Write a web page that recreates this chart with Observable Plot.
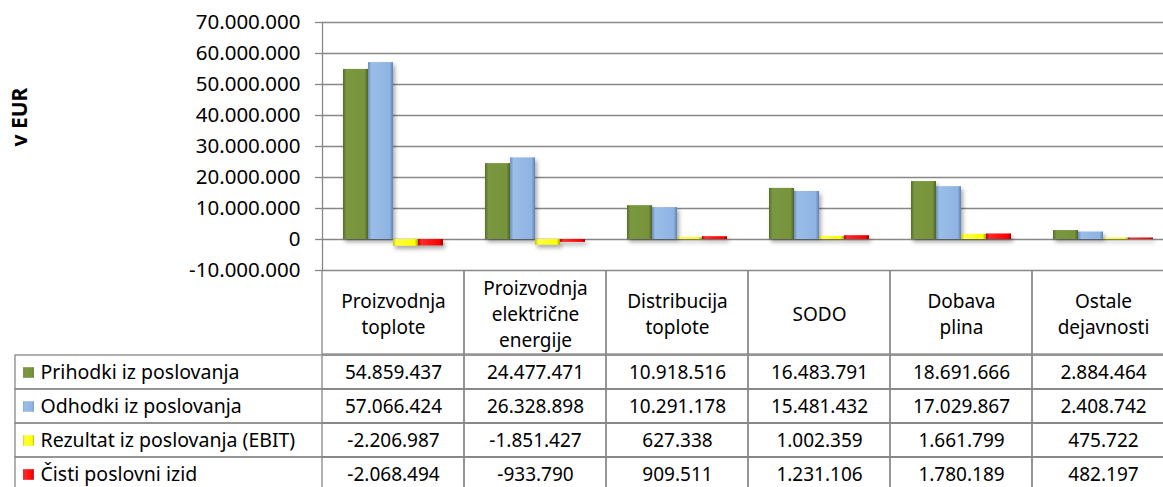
<!DOCTYPE html>
<html><head><meta charset="utf-8">
<script src="https://cdn.jsdelivr.net/npm/d3@7"></script>
<script src="https://cdn.jsdelivr.net/npm/@observablehq/plot@0.6"></script>
<style>
html,body{margin:0;padding:0;background:#fff;overflow:hidden;width:1163px;height:487px;}
#root svg{display:block;max-width:none !important;}
#header{margin-top:-1px;}
</style></head><body><div id="root"></div>
<script>
// ---- data ----
const categories = ["Proizvodnja toplote", "Proizvodnja električne energije", "Distribucija toplote", "SODO", "Dobava plina", "Ostale dejavnosti"];
const categoryLabels = ["Proizvodnja\ntoplote", "Proizvodnja\nelektrične\nenergije", "Distribucija\ntoplote", "SODO", "Dobava\nplina", "Ostale\ndejavnosti"];
const series = ["Prihodki iz poslovanja", "Odhodki iz poslovanja", "Rezultat iz poslovanja (EBIT)", "Čisti poslovni izid"];
const prihodki = [54859437, 24477471, 10918516, 16483791, 18691666, 2884464];
const odhodki = [57066424, 26328898, 10291178, 15481432, 17029867, 2408742];
const ebit = [-2206987, -1851427, 627338, 1002359, 1661799, 475722];
const cisti = [-2068494, -933790, 909511, 1231106, 1780189, 482197];
const yTicks = [-10000000, 0, 10000000, 20000000, 30000000, 40000000, 50000000, 60000000, 70000000];
const yTitle = "v EUR";

// ---- styles ----
const seriesValues = [prihodki, odhodki, ebit, cisti];
const gradients = [
  ["#566d2b", "#7a9840", "#77933c", "#4e6227"],
  ["#6c8fc0", "#9bbde8", "#8eb4e3", "#5f83b4"],
  ["#c4c400", "#ffff40", "#ffff00", "#a8a800"],
  ["#bb0000", "#ff2a2a", "#ff0000", "#9a0000"]
];
const gridColor = "#878787";
const FONT = "Noto Sans";
const W = 1176;
const gradId = i => `url(#bevel${i})`;

const rows = series.flatMap((s, si) => categories.map((c, ci) => ({series: s, category: c, value: seriesValues[si][ci], si})));

const loc = d3.formatLocale({decimal: ",", thousands: ".", grouping: [3], currency: ["", ""], minus: "-"});
const fmt = loc.format(",d");

const chart = Plot.plot({
  width: W, height: 271, marginLeft: 319, marginRight: 0, marginTop: 22, marginBottom: 1,
  style: {fontFamily: FONT, background: "white", color: "black", overflow: "visible"},
  fx: {domain: categories, padding: 0, axis: null, label: null},
  x: {domain: series, paddingInner: 0, paddingOuter: 0.75, axis: null},
  y: {domain: [-10000000, 70000000]},
  marks: [
    Plot.gridY(yTicks, {stroke: gridColor, strokeOpacity: 1, strokeWidth: 1.3}),
    Plot.axisY(yTicks, {tickFormat: fmt, tickSize: 7, tickPadding: 15, fontSize: 20.5, stroke: gridColor, strokeWidth: 1.3, label: null}),
    Plot.frame({anchor: "left", facetAnchor: "left", stroke: gridColor, strokeWidth: 1.3}),
    Plot.barY(rows, {fx: "category", x: "series", y: "value", fill: d => gradId(d.si)}),
    Plot.text([yTitle], {text: d => d, facetAnchor: "left", frameAnchor: "left", dx: -302, rotate: -90, fontWeight: "bold", fontSize: 21})
  ]
});

// gradient defs for the bevelled bars
const defs = d3.select(chart).insert("defs", ":first-child");
gradients.forEach((g, i) => {
  const lg = defs.append("linearGradient").attr("id", `bevel${i}`).attr("x1", 0).attr("x2", 1).attr("y1", 0).attr("y2", 0);
  [[0, g[0]], [0.14, g[1]], [0.86, g[2]], [1, g[3]]].forEach(([o, c]) => lg.append("stop").attr("offset", o).attr("stop-color", c));
});
d3.select(chart).selectAll('g[aria-label="bar"]').style("filter", "drop-shadow(2px 3px 2px rgba(0,0,0,0.35))");

const header = Plot.plot({
  width: W, height: 84, marginLeft: 319, marginRight: 0, marginTop: 0, marginBottom: 0,
  style: {fontFamily: FONT, background: "transparent", color: "black"},
  x: {domain: categories, padding: 0, axis: null},
  marks: [
    Plot.cell(categories, {x: d => d, stroke: gridColor, strokeWidth: 1.3, fill: "none"}),
    Plot.text(categories, {x: d => d, text: (d, i) => categoryLabels[i], fontSize: 19, lineHeight: 1.37})
  ]
});
header.id = "header";

const body = Plot.plot({
  width: W, height: 138, marginLeft: 15, marginRight: 0, marginTop: 0, marginBottom: 0,
  style: {fontFamily: FONT, background: "transparent", color: "black"},
  x: {type: "band", domain: categories, range: [319, W], padding: 0, axis: null},
  y: {domain: series, padding: 0, axis: null},
  marks: [
    Plot.cell(series, {y: d => d, stroke: gridColor, strokeWidth: 1.3, fill: "none"}),
    Plot.cell(rows, {x: "category", y: "series", stroke: gridColor, strokeWidth: 1.3, fill: "none"}),
    Plot.text(rows, {x: "category", y: "series", text: d => fmt(d.value), fontSize: 19}),
    Plot.dot(series, {y: d => d, frameAnchor: "left", dx: 13, symbol: "square", r: 6, fill: (d, i) => gradId(i)}),
    Plot.text(series, {y: d => d, text: d => d, frameAnchor: "left", dx: 25, textAnchor: "start", fontSize: 19.5})
  ]
});

const root = document.getElementById("root");
root.append(chart, header, body);
</script>
</body></html>
